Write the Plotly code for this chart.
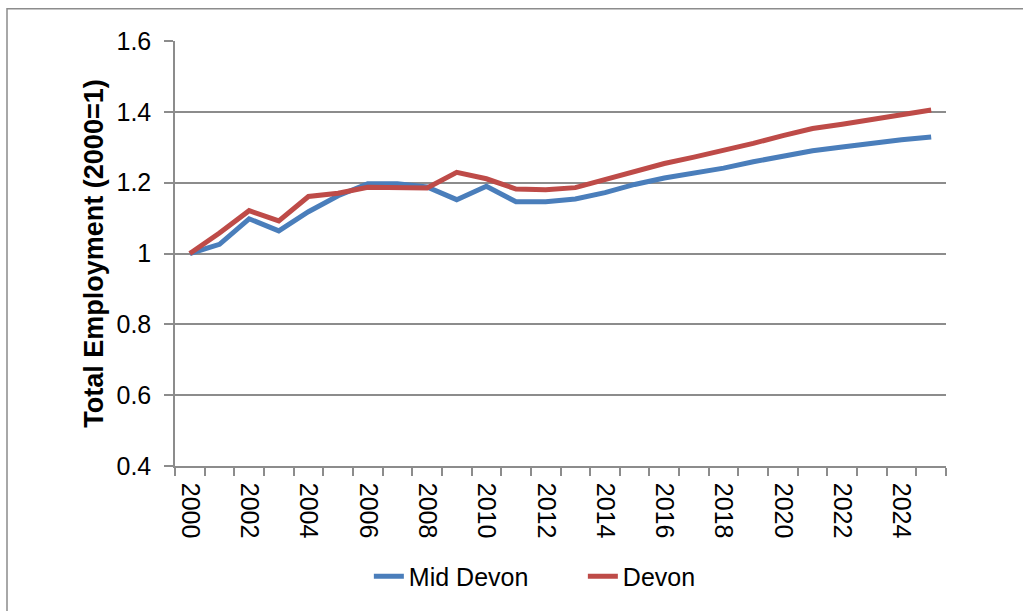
import plotly.graph_objects as go

# Data series (index 2000 = 1)
years = list(range(2000, 2026))
mid_devon = [1.000, 1.026, 1.098, 1.064, 1.118, 1.163, 1.197, 1.197, 1.188, 1.152,
             1.190, 1.146, 1.146, 1.154, 1.172, 1.195, 1.213, 1.227, 1.241, 1.259,
             1.276, 1.290, 1.301, 1.312, 1.321, 1.329]
devon = [1.000, 1.058, 1.121, 1.092, 1.161, 1.170, 1.187, 1.187, 1.185, 1.229,
         1.211, 1.182, 1.180, 1.186, 1.208, 1.233, 1.254, 1.272, 1.290, 1.311,
         1.333, 1.353, 1.365, 1.379, 1.392, 1.405]
even_years = [y for y in years if y % 2 == 0]

fig = go.Figure()

# Garis untuk tiap wilayah
fig.add_trace(go.Scatter(x=years, y=mid_devon, mode="lines", name="Mid Devon",
                         line=dict(color="#4a7ebb", width=5)))
fig.add_trace(go.Scatter(x=years, y=devon, mode="lines", name="Devon",
                         line=dict(color="#be4b48", width=5)))

grey = "#8c8c8c"
fig.update_layout(
    width=1023, height=611,
    margin=dict(l=175, r=77, t=41, b=142),
    paper_bgcolor="white", plot_bgcolor="white",
    font=dict(family="Liberation Sans, Arial, sans-serif", size=25, color="black"),
    showlegend=True,
    legend=dict(orientation="h", x=0.529, xanchor="center", y=-0.206, yanchor="top",
                font=dict(size=25), entrywidth=169, entrywidthmode="pixels",
                tracegroupgap=0),
    xaxis=dict(
        range=[1999.5, 2025.5], automargin=False,
        tickvals=even_years, ticktext=[str(y) for y in even_years],
        tickangle=90, ticks="", showgrid=False, zeroline=False,
        showline=True, linecolor=grey, linewidth=1.5,
        ticklabelstandoff=10,
        tickfont=dict(size=25),
        minor=dict(tick0=1999.5, dtick=1, ticks="outside", ticklen=8,
                   tickcolor=grey, tickwidth=1.5, showgrid=False),
    ),
    yaxis=dict(
        range=[0.4, 1.6], dtick=0.2, tickformat="~g", automargin=False,
        showgrid=True, gridcolor=grey, gridwidth=1.5, zeroline=False,
        showline=True, linecolor=grey, linewidth=1.5,
        ticks="outside", ticklen=9, tickcolor=grey, tickwidth=1.5,
        ticklabelstandoff=8,
        tickfont=dict(size=25),
        title=dict(text="<b>Total Employment (2000=1)</b>", font=dict(size=27), standoff=5),
    ),
)

# Bingkai luar chart (hanya sisi atas dan kiri terlihat)
fig.add_shape(type="rect", xref="paper", yref="paper",
              x0=(7 - 175) / 771, x1=1.2, y0=-0.5, y1=(469 - 8.5) / 428,
              line=dict(color=grey, width=1.5), layer="below")

fig.write_html("out.html", config=dict(displayModeBar=False),
               post_script="document.body.style.margin='0';")
